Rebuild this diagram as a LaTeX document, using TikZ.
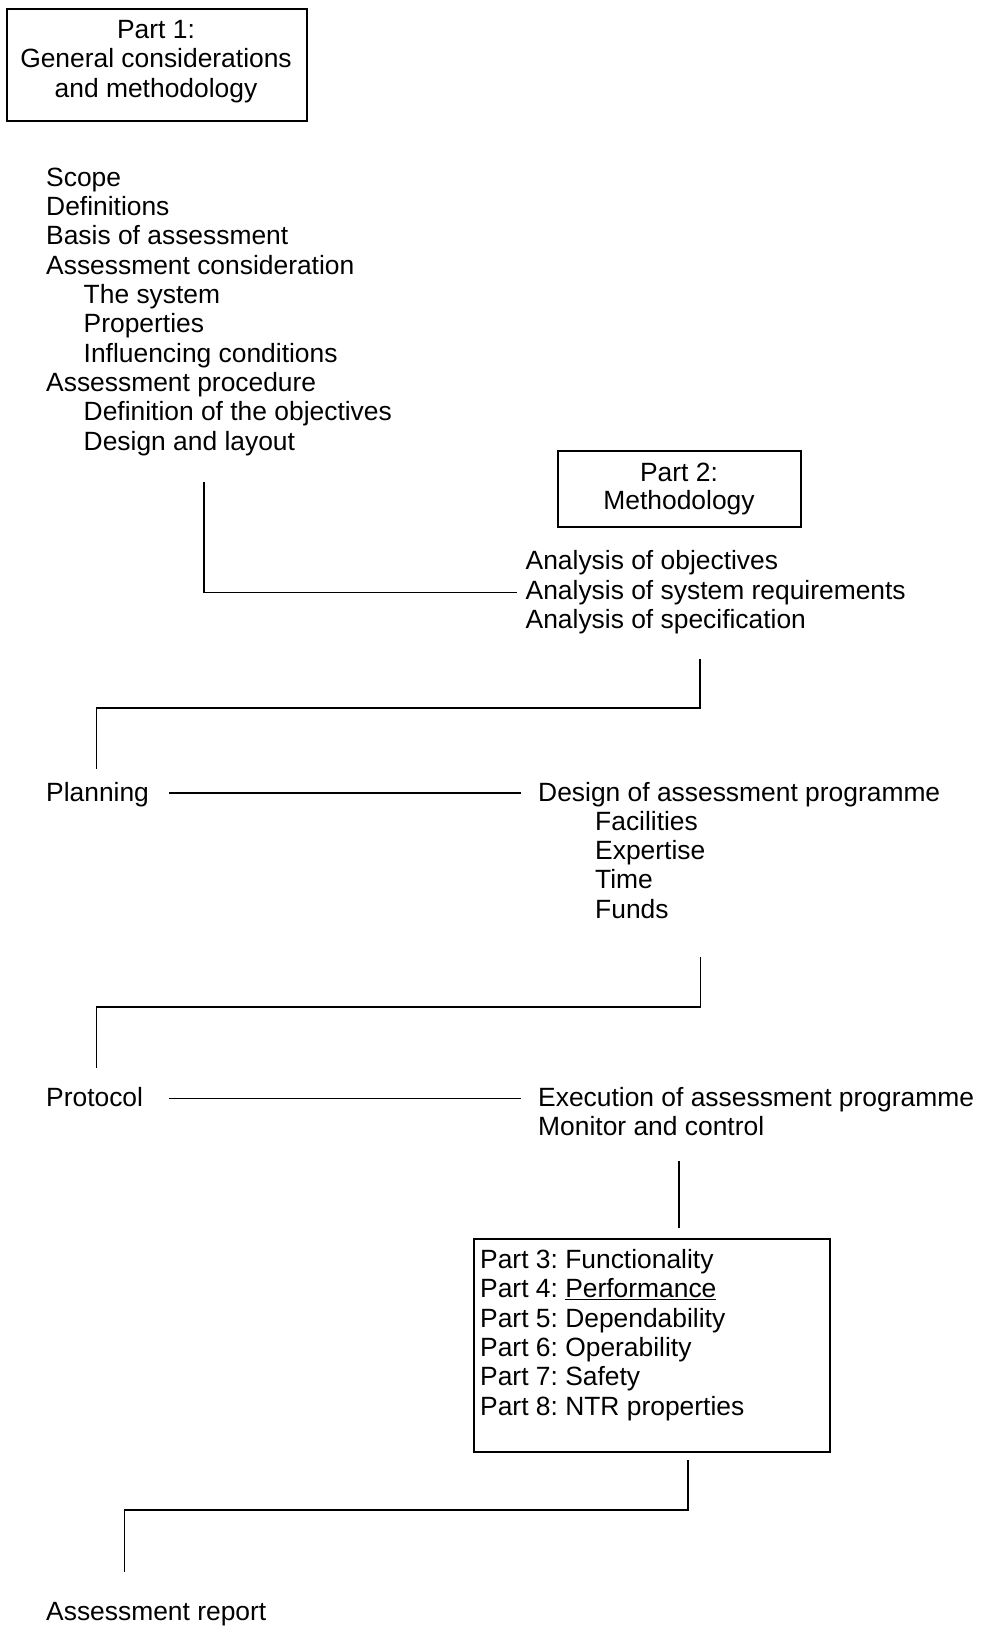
\documentclass[tikz,border=0pt]{standalone}
\usepackage{fontspec}
\setmainfont{Liberation Sans}
\frenchspacing
\begin{document}
\begin{tikzpicture}[x=1bp,y=-1bp,
  txt/.style={anchor=base west,inner sep=0pt,font=\fontsize{26.4bp}{29bp}\selectfont\frenchspacing},
  ctr/.style={anchor=base,inner sep=0pt,font=\fontsize{26.4bp}{29bp}\selectfont\frenchspacing},
  boxed/.style={draw,line width=1.8bp,anchor=north west,inner sep=0pt},
  conn/.style={line width=1.9bp}]
\useasboundingbox (0,0) rectangle (982,1627);
% Part 1 box
\node[boxed,minimum width=300bp,minimum height=112bp] (p1) at (6,8) {};
\node[ctr] (p1a) at (156,38.5) {Part 1:};
\node[ctr] (p1b) at (156,68) {General considerations};
\node[ctr] (p1c) at (156,97) {and methodology};
% list 1
\node[txt] (l1) at (46,186) {Scope};
\node[txt] (l2) at (46,215.3) {Definitions};
\node[txt] (l3) at (46,244.7) {Basis of assessment};
\node[txt] (l4) at (46,274) {Assessment consideration};
\node[txt] (l5) at (83.5,303.3) {The system};
\node[txt] (l6) at (83.5,332.7) {Properties};
\node[txt] (l7) at (83.5,362) {Influencing conditions};
\node[txt] (l8) at (46,391.3) {Assessment procedure};
\node[txt] (l9) at (83.5,420.7) {Definition of the objectives};
\node[txt] (l10) at (83.5,450) {Design and layout};
% Part 2 box
\node[boxed,minimum width=243bp,minimum height=76bp] (p2) at (557,450) {};
\node[ctr] (p2a) at (679,481) {Part 2:};
\node[ctr] (p2b) at (679,509.5) {Methodology};
\node[txt] (a1) at (525.5,569.5) {Analysis of objectives};
\node[txt] (a2) at (525.5,599) {Analysis of system requirements};
\node[txt] (a3) at (525.5,628.5) {Analysis of specification};
% connector 1
\coordinate (c1s) at (204,482);
\coordinate (c1e) at (517,592.5);
\draw[conn] (c1s) |- (c1e);
% connector 2
\coordinate (c2s) at (700,659);
\coordinate (c2e) at (96.5,769);
\draw[conn] (c2s) |- (c2e |- 0,708) -- (c2e);
% Planning
\node[txt] (pl) at (46,801.5) {Planning};
\node[txt] (d0) at (538,801.5) {Design of assessment programme};
\node[txt] (d1) at (595,830.5) {Facilities};
\node[txt] (d2) at (595,859.5) {Expertise};
\node[txt] (d3) at (595,888.5) {Time};
\node[txt] (d4) at (595,918) {Funds};
\coordinate (pl1) at (169,793);
\coordinate (pl2) at (521,793);
\draw[conn] (pl1) -- (pl2);
% connector 3
\coordinate (c3s) at (700.5,957);
\coordinate (c3e) at (96.5,1068);
\draw[conn] (c3s) |- (c3e |- 0,1007) -- (c3e);
% Protocol
\node[txt] (pr) at (46,1106.5) {Protocol};
\node[txt] (e0) at (538,1106.5) {Execution of assessment programme};
\node[txt] (e1) at (538,1135.5) {Monitor and control};
\coordinate (pr1) at (169,1098.5);
\coordinate (pr2) at (521,1098.5);
\draw[conn] (pr1) -- (pr2);
% connector 4
\coordinate (c4s) at (679,1161);
\coordinate (c4e) at (679,1228);
\draw[conn] (c4s) -- (c4e);
% Part 3-8 box
\node[boxed,minimum width=356bp,minimum height=213bp] (p3) at (473,1238) {};
\node[txt] (q3) at (480,1268.3) {Part 3: Functionality};
\node[txt] (q4) at (480,1297.7) {Part 4: \underline{Performance}};
\node[txt] (q5) at (480,1327) {Part 5: Dependability};
\node[txt] (q6) at (480,1356.3) {Part 6: Operability};
\node[txt] (q7) at (480,1385.7) {Part 7: Safety};
\node[txt] (q8) at (480,1415) {Part 8: NTR properties};
% connector 5
\coordinate (c5s) at (688,1460);
\coordinate (c5e) at (124.5,1572);
\draw[conn] (c5s) |- (c5e |- 0,1510) -- (c5e);
\node[txt] (ar) at (46,1620.5) {Assessment report};
\end{tikzpicture}
\end{document}
